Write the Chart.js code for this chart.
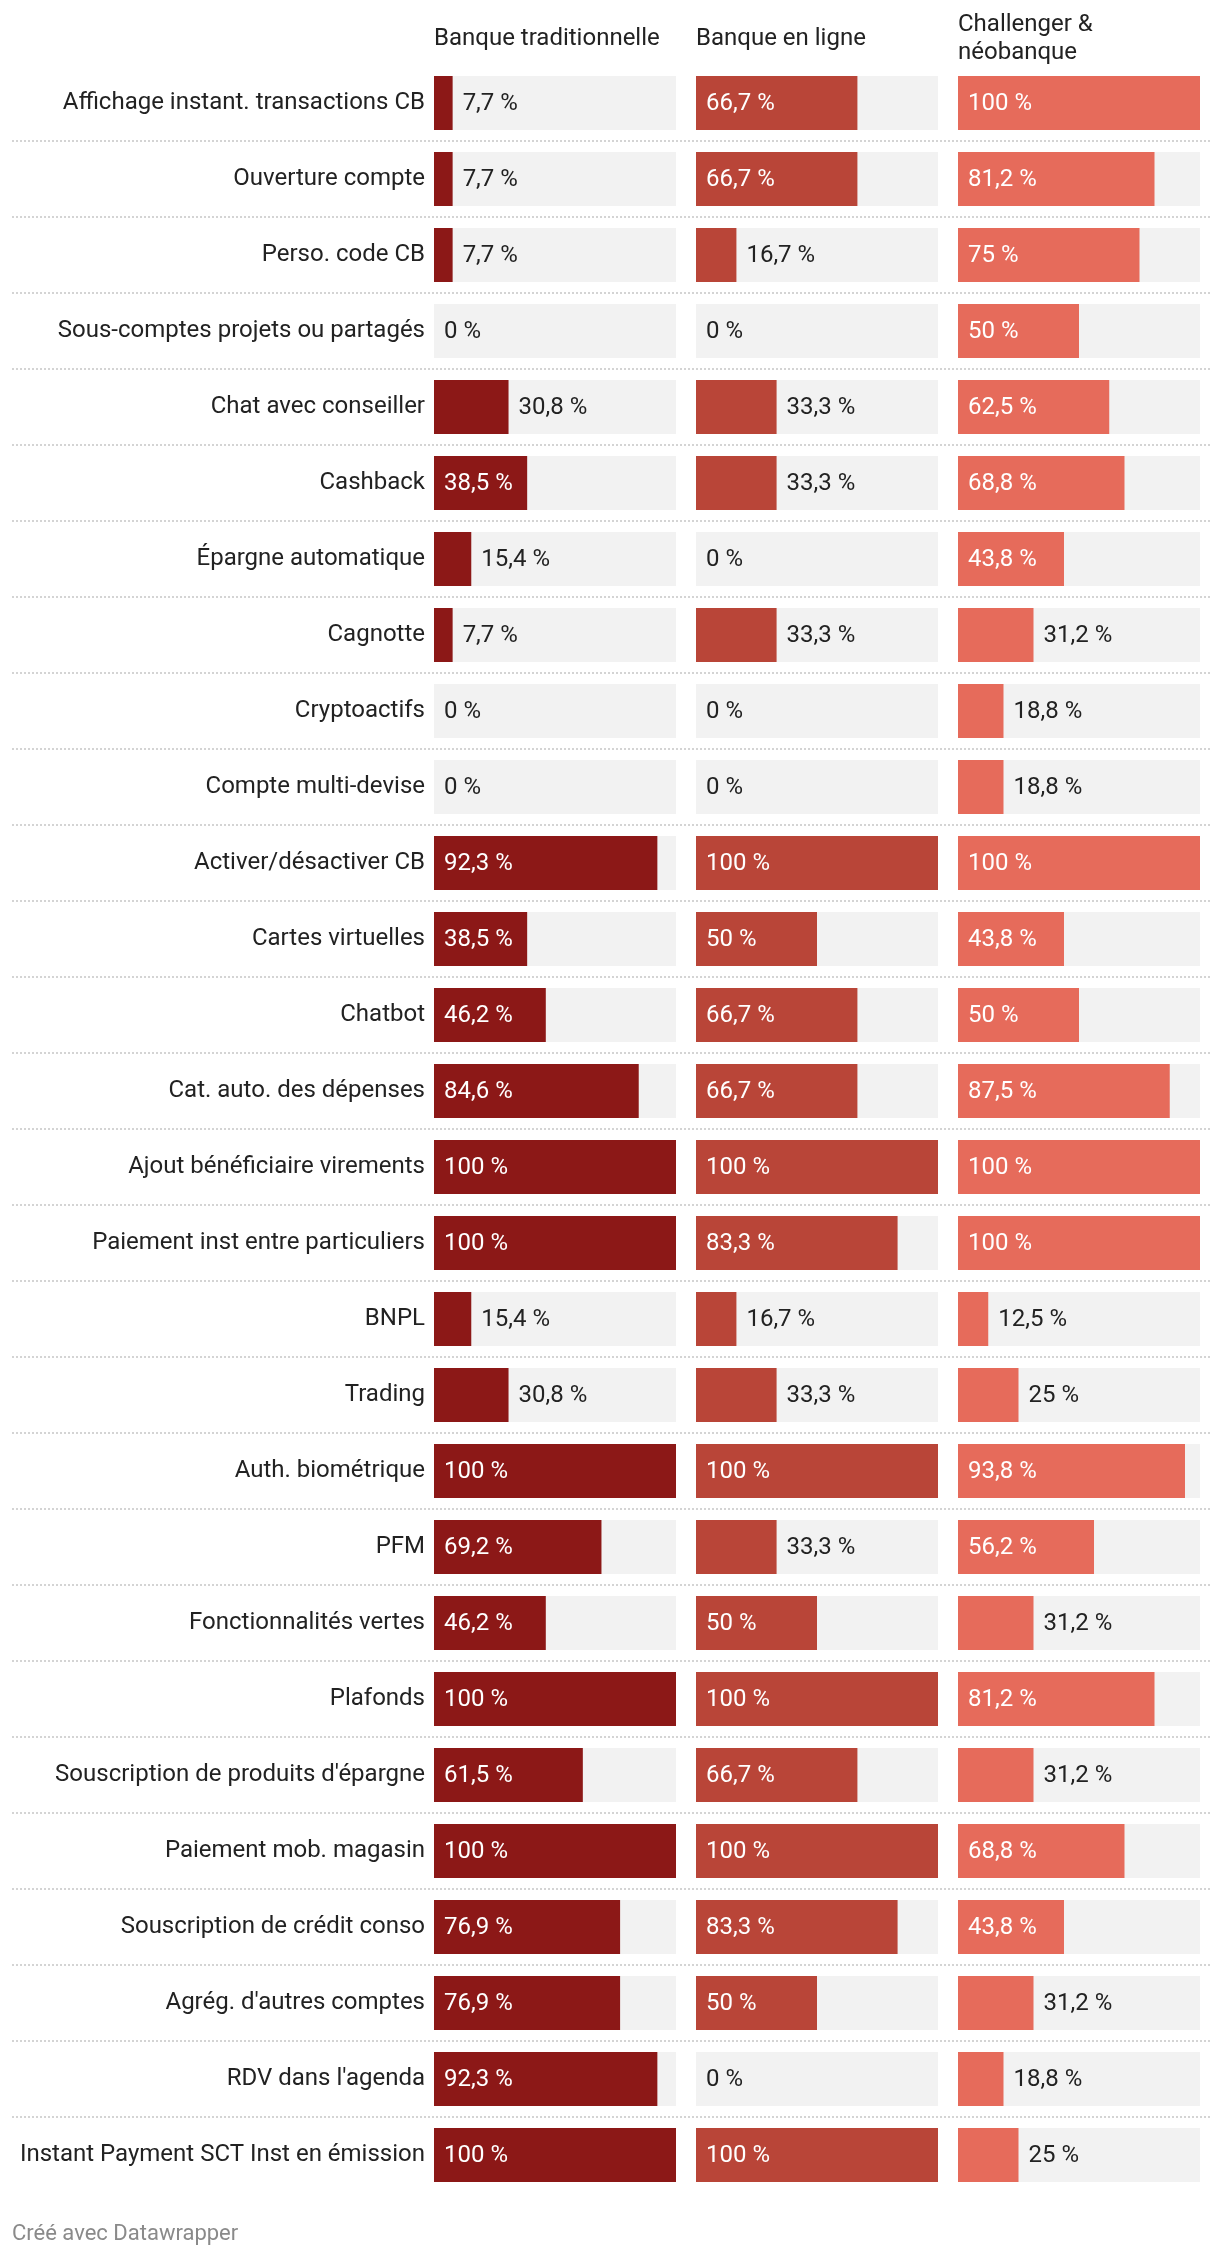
<!DOCTYPE html>
<html lang="fr">
<head>
<meta charset="utf-8">
<title>Fonctionnalités des applis bancaires</title>
<script src="https://cdn.jsdelivr.net/npm/chart.js@4.4.1/dist/chart.umd.min.js"></script>
<style>
  html, body { margin: 0; padding: 0; background: #fff; }
  #wrap { position: relative; width: 1220px; height: 2258px; }
  #chart { position: absolute; left: 0; top: 0; }
  #credit {
    position: absolute; left: 12px; top: 2220px;
    font: 22px Roboto, sans-serif; color: #8a8a8a;
  }
</style>
</head>
<body>
<div id="wrap">
  <canvas id="chart" width="1220" height="2258"></canvas>
  <div id="credit">Créé avec Datawrapper</div>
</div>
<script>
const features = [
  "Affichage instant. transactions CB",
  "Ouverture compte",
  "Perso. code CB",
  "Sous-comptes projets ou partagés",
  "Chat avec conseiller",
  "Cashback",
  "Épargne automatique",
  "Cagnotte",
  "Cryptoactifs",
  "Compte multi-devise",
  "Activer/désactiver CB",
  "Cartes virtuelles",
  "Chatbot",
  "Cat. auto. des dépenses",
  "Ajout bénéficiaire virements",
  "Paiement inst entre particuliers",
  "BNPL",
  "Trading",
  "Auth. biométrique",
  "PFM",
  "Fonctionnalités vertes",
  "Plafonds",
  "Souscription de produits d'épargne",
  "Paiement mob. magasin",
  "Souscription de crédit conso",
  "Agrég. d'autres comptes",
  "RDV dans l'agenda",
  "Instant Payment SCT Inst en émission"
];

const banqueTraditionnelle = [7.7, 7.7, 7.7, 0, 30.8, 38.5, 15.4, 7.7, 0, 0, 92.3, 38.5, 46.2, 84.6,
  100, 100, 15.4, 30.8, 100, 69.2, 46.2, 100, 61.5, 100, 76.9, 76.9, 92.3, 100];
const banqueEnLigne = [66.7, 66.7, 16.7, 0, 33.3, 33.3, 0, 33.3, 0, 0, 100, 50, 66.7, 66.7,
  100, 83.3, 16.7, 33.3, 100, 33.3, 50, 100, 66.7, 100, 83.3, 50, 0, 100];
const challengerNeobanque = [100, 81.2, 75, 50, 62.5, 68.8, 43.8, 31.2, 18.8, 18.8, 100, 43.8, 50, 87.5,
  100, 100, 12.5, 25, 93.8, 56.2, 31.2, 81.2, 31.2, 68.8, 43.8, 31.2, 18.8, 25];

const columnTitles = [["Banque traditionnelle"], ["Banque en ligne"], ["Challenger &", "néobanque"]];
const columnColors = ["#8c1817", "#b94538", "#e66b5b"];
const scaleMax = 100;

// layout
const colWidth = 242;
const colGap = 20;
const labelWidth = 434;
const trackColor = "#f2f2f2";
const textDark = "#222222";
const fontFamily = "Roboto, 'Noto Sans', sans-serif";

function fmt(v) {
  return String(v).replace(".", ",") + " %";
}

const tablePlugin = {
  id: "tableBits",
  beforeDatasetsDraw(chart) {
    const ctx = chart.ctx;
    const y = chart.scales.y;
    // dotted row separators
    ctx.save();
    ctx.strokeStyle = "#d4d4d4";
    ctx.lineWidth = 2;
    ctx.setLineDash([2, 2]);
    for (let i = 0; i < features.length - 1; i++) {
      const sy = Math.round((y.getPixelForValue(i) + y.getPixelForValue(i + 1)) / 2);
      ctx.beginPath();
      ctx.moveTo(12, sy);
      ctx.lineTo(1210, sy);
      ctx.stroke();
    }
    ctx.restore();
    // grey tracks behind each bar
    ctx.save();
    ctx.fillStyle = trackColor;
    chart.data.datasets.forEach((ds, di) => {
      const xs = chart.scales[ds.xAxisID];
      const x0 = xs.getPixelForValue(0);
      const x1 = xs.getPixelForValue(scaleMax);
      chart.getDatasetMeta(di).data.forEach((bar) => {
        ctx.fillRect(x0, bar.y - bar.height / 2, x1 - x0, bar.height);
      });
    });
    ctx.restore();
  },
  afterDatasetsDraw(chart) {
    const ctx = chart.ctx;
    ctx.save();
    ctx.font = "24px " + fontFamily;
    ctx.textBaseline = "middle";
    ctx.textAlign = "left";
    chart.data.datasets.forEach((ds, di) => {
      chart.getDatasetMeta(di).data.forEach((bar, i) => {
        const txt = fmt(ds.data[i]);
        const w = ctx.measureText(txt).width;
        const barW = bar.x - bar.base;
        if (w + 20 < barW) {
          ctx.fillStyle = "#ffffff";
          ctx.fillText(txt, bar.base + 10, bar.y + 1);
        } else {
          ctx.fillStyle = textDark;
          ctx.fillText(txt, bar.x + 10, bar.y + 1);
        }
      });
    });
    ctx.restore();
  },
  afterDraw(chart) {
    const ctx = chart.ctx;
    ctx.save();
    ctx.font = "24px " + fontFamily;
    ctx.fillStyle = textDark;
    ctx.textBaseline = "middle";
    ctx.textAlign = "left";
    const lineH = 28;
    chart.data.datasets.forEach((ds, di) => {
      const xs = chart.scales[ds.xAxisID];
      const lines = columnTitles[di];
      const top = 39 - (lines.length - 1) * lineH / 2;
      lines.forEach((l, k) => ctx.fillText(l, xs.left, top + k * lineH));
    });
    ctx.restore();
  }
};

const series = [banqueTraditionnelle, banqueEnLigne, challengerNeobanque];

const datasets = series.map((d, i) => ({
  label: columnTitles[i].join(" "),
  data: d,
  xAxisID: "x" + (i + 1),
  yAxisID: "y",
  backgroundColor: columnColors[i],
  borderWidth: 0,
  grouped: false,
  barPercentage: 54 / 76,
  categoryPercentage: 1
}));

function colScale(weight, max) {
  return {
    type: "linear",
    axis: "x",
    display: false,
    stack: "cols",
    stackWeight: weight,
    min: 0,
    max: max
  };
}

const config = {
  type: "bar",
  data: { labels: features, datasets: datasets },
  options: {
    indexAxis: "y",
    responsive: false,
    animation: false,
    events: [],
    layout: { padding: { left: 0, right: 20, top: 65, bottom: 65 } },
    plugins: { legend: { display: false }, tooltip: { enabled: false } },
    scales: {
      y: {
        type: "category",
        offset: true,
        grid: { display: false, drawTicks: false },
        border: { display: false },
        ticks: {
          autoSkip: false,
          padding: 9,
          color: textDark,
          font: { family: fontFamily, size: 24 }
        },
        afterFit(scale) { scale.width = labelWidth; }
      },
      x1: colScale(colWidth + colGap, scaleMax * (colWidth + colGap) / colWidth),
      x2: colScale(colWidth + colGap, scaleMax * (colWidth + colGap) / colWidth),
      x3: colScale(colWidth, scaleMax)
    }
  },
  plugins: [tablePlugin]
};

const canvas = document.getElementById("chart");
if (canvas) {
  new Chart(canvas, config);
} else {
  console.error("Canvas element not found");
}
</script>
</body>
</html>
